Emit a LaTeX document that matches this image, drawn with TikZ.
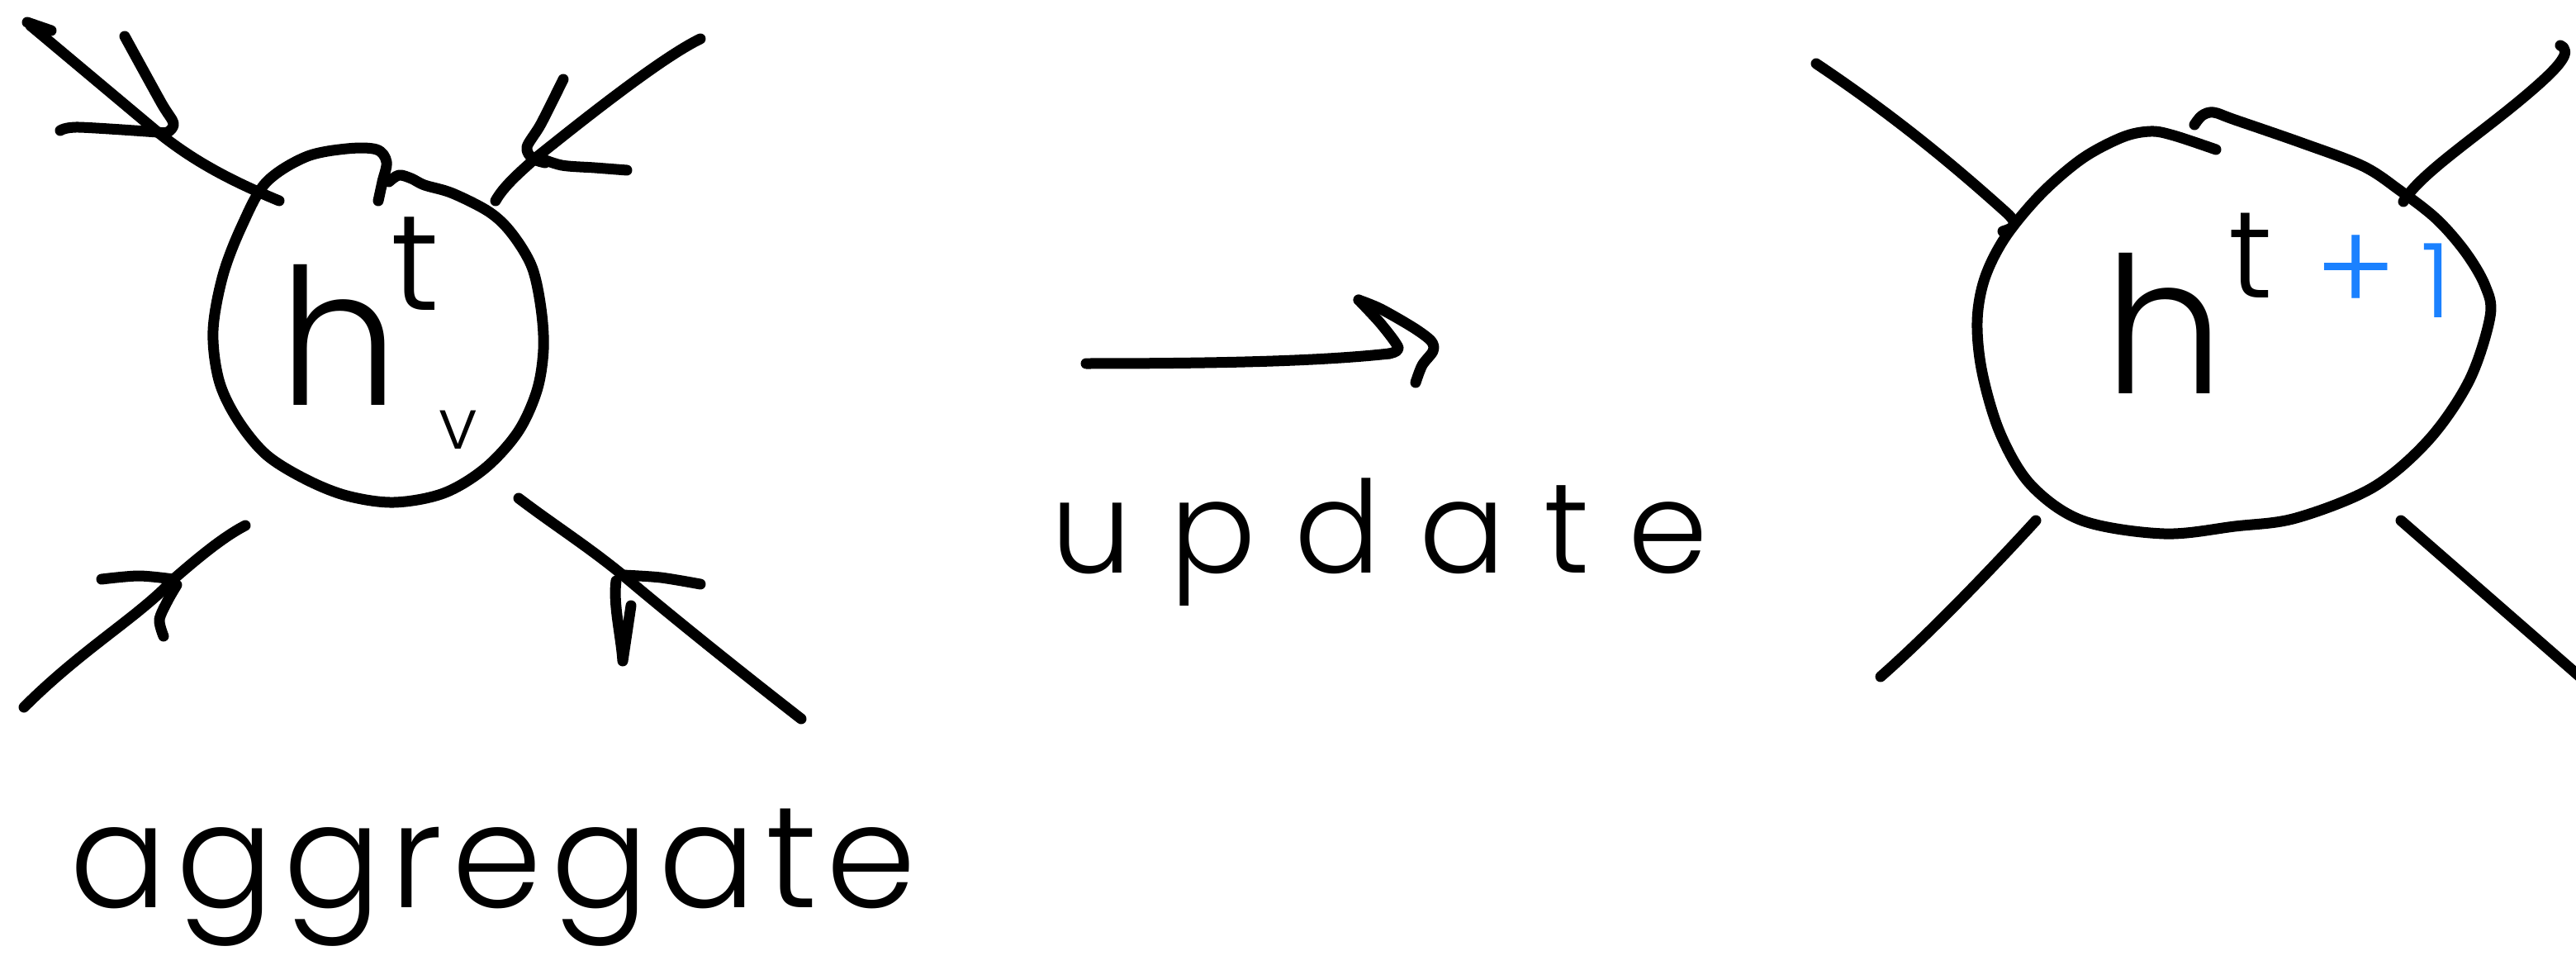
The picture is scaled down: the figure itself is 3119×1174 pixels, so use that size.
\documentclass[tikz,border=0pt]{standalone}
\usepackage{fontspec}
\setmainfont{Poppins}[UprightFont={* Light}]
\definecolor{penblue}{RGB}{27,129,255}
\begin{document}
\begin{tikzpicture}[x=1pt,y=-1pt,
  ink/.style={line width=13pt, line cap=round, line join=round, black},
  txt/.style={inner sep=0pt, outer sep=0pt},
  bluetxt/.style={inner sep=0pt, outer sep=0pt, text=penblue}]
\useasboundingbox (0,0) rectangle (3119,1174);
\clip (0,0) rectangle (3119,1174);

% ---------- left node (h_v^t) ----------
\draw[ink] plot[smooth, tension=0.55] coordinates {(458,243) (463,220) (468,196) (456,181) (420,180) (370,190) (322,221) (293,273) (270,333) (258,400) (265,460) (287,507) (322,550) (370,580) (420,600) (477,608) (537,597) (587,567) (627,523) (650,473) (658,423) (655,373) (644,323) (620,283) (593,257) (548,234) (514,224) (498,216) (483,212) (471,220)};
\node[txt, anchor=base] (lh) at (410,490) {\fontsize{230}{260}\selectfont h};
\node[txt, anchor=base] (lt) at (503,375) {\fontsize{165}{180}\selectfont t};
\node[txt, anchor=base] (lv) at (555,543) {\fontsize{85}{90}\selectfont v};

% upper-left incoming arrow
\coordinate (ulT) at (37,31);
\coordinate (ulH) at (191,160);
\coordinate (ulE) at (338,243);
\draw[ink] (33,27) -- (62,37);
\draw[ink] (ulT) -- (ulH) .. controls (232,193) and (275,217) .. (ulE);
\draw[ink] plot[smooth, tension=0.5] coordinates {(151,44) (195,124) (210,149) (203,160) (ulH)};
\draw[ink] plot[smooth, tension=0.5] coordinates {(73,158) (95,154) (ulH)};

% upper-right incoming arrow
\coordinate (urT) at (848,47);
\coordinate (urH) at (650,190);
\coordinate (urE) at (600,243);
\draw[ink] (urT) .. controls (800,70) and (700,150) .. (urH) .. controls (630,208) and (610,225) .. (urE);
\draw[ink] plot[smooth, tension=0.5] coordinates {(682,96) (655,150) (638,178) (645,192) (660,197)};
\draw[ink] plot[smooth, tension=0.5] coordinates {(urH) (680,200) (720,203) (759,206)};

% lower-left incoming arrow
\coordinate (llT) at (29,856);
\coordinate (llH) at (210,701);
\coordinate (llE) at (297,636);
\draw[ink] (llT) .. controls (100,785) and (170,745) .. (llH) .. controls (240,675) and (270,650) .. (llE);
\draw[ink] plot[smooth, tension=0.5] coordinates {(123,701) (168,697) (llH)};
\draw[ink] plot[smooth, tension=0.5] coordinates {(198,770) (193,750) (203,727) (214,708)};

% lower-right incoming arrow
\coordinate (lrT) at (970,870);
\coordinate (lrH) at (754,696);
\coordinate (lrE) at (628,603);
\draw[ink] (lrT) .. controls (880,800) and (800,735) .. (lrH) .. controls (710,660) and (670,635) .. (lrE);
\draw[ink] plot[smooth, tension=0.5] coordinates {(lrH) (800,699) (848,707)};
\draw[ink] (746,703) .. controls (742,730) and (752,770) .. (754,800) -- (764,733);

% aggregate
\node[txt, anchor=base west] (agg) at (84,1098) {\fontsize{175}{190}\selectfont\hbox to 1026pt{a\hfil g\hfil g\hfil r\hfil e\hfil g\hfil a\hfil t\hfil e}};

% ---------- middle update arrow ----------
\coordinate (mS) at (1315,440);
\coordinate (mE) at (1682,428);
\coordinate (mTip) at (1735,425);
\draw[ink] (mS) .. controls (1480,440) and (1600,437) .. (mE);
\draw[ink] plot[smooth, tension=0.5] coordinates {(mE) (1693,421) (1672,392) (1645,363)};
\draw[ink] plot[smooth, tension=0.5] coordinates {(1645,363) (1672,374) (1712,397) (1733,413) (mTip) (1722,442) (1714,463)};

\node[txt, anchor=base west] (upd) at (1272,693) {\fontsize{155}{170}\selectfont\hbox to 796pt{u\hfil p\hfil d\hfil a\hfil t\hfil e}};

% ---------- right node (h^{t+1}) ----------
\draw[ink] plot[smooth, tension=0.55] coordinates {(2683,181) (2632,164) (2604,159) (2570,166) (2521,192) (2471,235) (2428,287) (2403,337) (2394,389) (2400,451) (2422,525) (2459,587) (2521,630) (2620,646) (2706,637) (2780,627) (2873,590) (2941,532) (2990,460) (3015,383) (3009,346) (2985,305) (2950,265) (2905,230) (2861,201) (2787,173) (2706,145) (2680,136) (2666,140) (2657,151)};
\node[txt, anchor=base] (rh) at (2620,476) {\fontsize{230}{250}\selectfont h};
\node[txt, anchor=base] (rt) at (2725,360) {\fontsize{150}{160}\selectfont t};
\node[bluetxt] (rplus) at (2853,332) {\fontsize{150}{170}\selectfont +};
\node[bluetxt] (rone) at (2950,340) {\fontsize{125}{140}\selectfont 1};

% outgoing lines
\coordinate (r1a) at (2199,77);
\coordinate (r1b) at (2425,280);
\draw[ink] (r1a) .. controls (2290,138) and (2360,195) .. (2430,258) .. controls (2445,272) and (2438,276) .. (r1b);
\coordinate (r2a) at (2910,244);
\coordinate (r2b) at (3100,55);
\draw[ink] (r2a) .. controls (2930,210) and (3000,165) .. (3060,114) .. controls (3100,80) and (3115,62) .. (r2b);
\coordinate (r3a) at (2465,630);
\coordinate (r3b) at (2277,819);
\draw[ink] (r3a) .. controls (2410,690) and (2335,768) .. (r3b);
\coordinate (r4a) at (2907,630);
\coordinate (r4b) at (3150,842);
\draw[ink] (r4a) -- (r4b);
\end{tikzpicture}
\end{document}
